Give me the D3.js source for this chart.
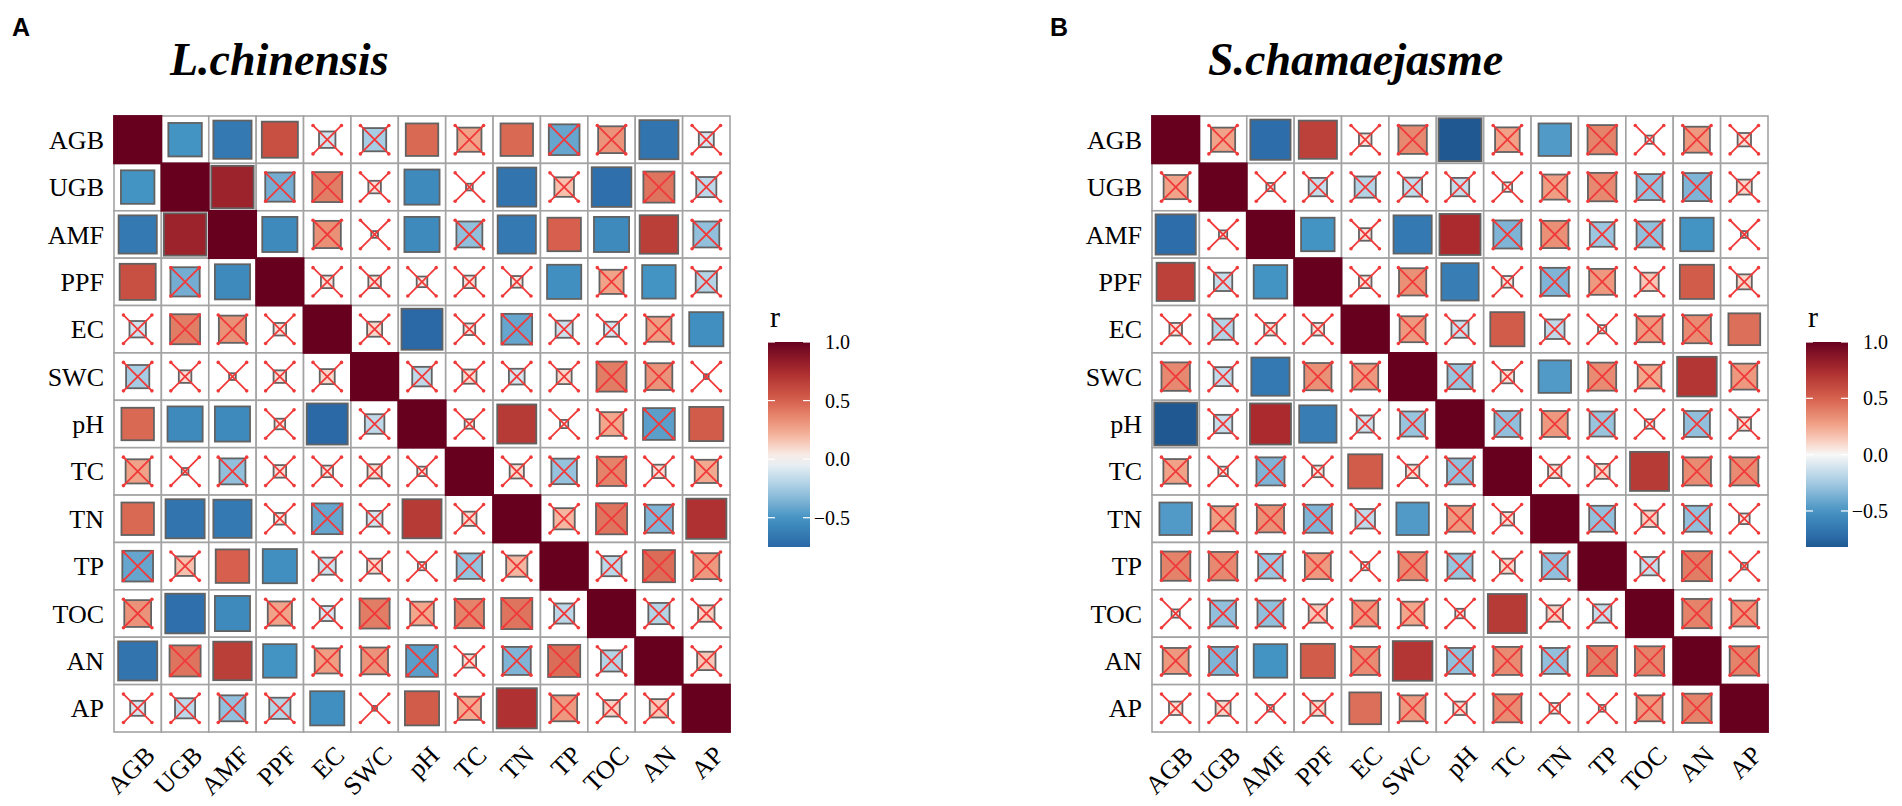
<!DOCTYPE html>
<html>
<head>
<meta charset="utf-8">
<style>
  * { margin:0; padding:0 }
  body, html { background:#fff; overflow:hidden; }
  text { font-family: "Liberation Serif", "Times New Roman", serif; }
</style>
<script src="https://cdn.jsdelivr.net/npm/d3@7"></script>
</head>
<body>
<script>
// variables (same order on both axes)
var vars = ["AGB","UGB","AMF","PPF","EC","SWC","pH","TC","TN","TP","TOC","AN","AP"];

// lower triangle of r, row by row (row i holds columns 0..i-1)
var rA = [
  [],
  [-0.50],
  [-0.65, 0.80],
  [0.58, -0.38, -0.55],
  [-0.12, 0.40, 0.33, 0.07],
  [-0.24, 0.07, 0.02, 0.07, 0.10],
  [0.47, -0.55, -0.55, 0.05, -0.75, -0.17],
  [0.26, 0.02, -0.30, 0.07, 0.06, 0.09, 0.04],
  [0.47, -0.68, -0.65, 0.06, -0.42, -0.11, 0.68, 0.09],
  [-0.42, 0.17, 0.50, -0.52, -0.13, 0.10, 0.03, -0.29, 0.20],
  [0.32, -0.70, -0.55, 0.26, -0.10, 0.40, 0.25, 0.38, 0.43, -0.18],
  [-0.68, 0.43, 0.66, -0.50, 0.28, 0.32, -0.45, 0.08, -0.35, 0.46, -0.20],
  [-0.10, -0.18, -0.30, -0.20, -0.52, 0.01, 0.52, 0.24, 0.72, 0.30, 0.12, 0.15]
];
// 1 = significant (no cross), 0 = not significant
var sA = [
  [],
  [1],
  [1,1],
  [1,0,1],
  [0,0,0,0],
  [0,0,0,0,0],
  [1,1,1,0,1,0],
  [0,0,0,0,0,0,0],
  [1,1,1,0,0,0,1,0],
  [0,0,1,1,0,0,0,0,0],
  [0,1,1,0,0,0,0,0,0,0],
  [1,0,1,1,0,0,0,0,0,0,0],
  [0,0,0,0,1,0,1,0,1,0,0,0]
];

var rB = [
  [],
  [0.26],
  [-0.72, 0.03],
  [0.65, -0.15, -0.50],
  [0.07, -0.20, 0.07, 0.07],
  [0.36, -0.16, -0.65, 0.33, 0.30],
  [-0.82, -0.15, 0.75, -0.62, -0.13, -0.28],
  [0.27, 0.04, -0.35, 0.06, 0.52, 0.08, -0.30],
  [-0.47, 0.28, 0.33, -0.35, -0.17, -0.47, 0.30, 0.08],
  [0.38, 0.36, -0.27, 0.30, 0.03, 0.35, -0.28, 0.10, -0.30],
  [0.03, -0.30, -0.30, 0.15, 0.30, 0.25, 0.04, 0.68, 0.12, -0.15],
  [0.30, -0.35, -0.50, 0.52, 0.35, 0.70, -0.30, 0.35, -0.30, 0.40, 0.38],
  [0.08, 0.10, 0.02, 0.10, 0.45, 0.30, 0.08, 0.35, 0.05, 0.02, 0.30, 0.38]
];
var sB = [
  [],
  [0],
  [1,0],
  [1,0,1],
  [0,0,0,0],
  [0,0,1,0,0],
  [1,0,1,1,0,0],
  [0,0,0,0,1,0,0],
  [1,0,0,0,0,1,0,0],
  [0,0,0,0,0,0,0,0,0],
  [0,0,0,0,0,0,0,1,0,0],
  [0,0,1,1,0,1,0,0,0,0,0],
  [0,0,0,0,1,0,0,0,0,0,0,0]
];

var legendTicks = [-0.5, 0, 0.5, 1];
var colorStops = [-1, -0.75, -0.5, -0.25, 0, 0.25, 0.5, 0.75, 1];
var colorHex = ["#053061", "#2a68a6", "#4393c3", "#a3cbe2", "#f7f7f7", "#f2a68c", "#d6604d", "#aa2a2e", "#67001f"];

var W = 1902, H = 806;
var svg = d3.select("body").append("svg").attr("width", W).attr("height", H);

var color = d3.scaleLinear().domain(colorStops).range(colorHex).interpolate(d3.interpolateLab);

function cells(r, s) {
  var out = [];
  vars.forEach(function(rv, i) {
    vars.forEach(function(cv, j) {
      var v, sig;
      if (i == j) { v = 1; sig = 1; }
      else if (j < i) { v = r[i][j]; sig = s[i][j]; }
      else { v = r[j][i]; sig = s[j][i]; }
      out.push({ row: rv, col: cv, v: v, sig: sig, diag: i == j });
    });
  });
  return out;
}

function panel(ox, letter, title, r, s, gid) {
  var x0 = ox + 114, y0 = 116, size = 616;
  var g = svg.append("g");
  var x = d3.scaleBand().domain(vars).range([x0, x0 + size]);
  var y = d3.scaleBand().domain(vars).range([y0, y0 + size]);
  var bw = x.bandwidth();
  var data = cells(r, s);

  g.append("text").attr("x", ox + 12).attr("y", 36)
    .style("font-family", "Liberation Sans, Arial, sans-serif")
    .style("font-weight", "bold").style("font-size", "25px").text(letter);
  g.append("text").attr("x", ox + 170).attr("y", 75)
    .style("font-weight", "bold").style("font-style", "italic")
    .style("font-size", "46px").text(title);

  // cell grid
  g.selectAll("rect.cell").data(data).enter().append("rect")
    .attr("x", function(d) { return x(d.col); })
    .attr("y", function(d) { return y(d.row); })
    .attr("width", bw).attr("height", bw)
    .attr("fill", "#fff").attr("stroke", "#a3a3a3").attr("stroke-width", 1.6);

  // squares, side ~ sqrt(|r|)
  g.selectAll("rect.sq").data(data).enter().append("rect")
    .attr("x", function(d) { return x(d.col) + bw / 2 - bw * Math.sqrt(Math.abs(d.v)) / 2; })
    .attr("y", function(d) { return y(d.row) + bw / 2 - bw * Math.sqrt(Math.abs(d.v)) / 2; })
    .attr("width", function(d) { return bw * Math.sqrt(Math.abs(d.v)); })
    .attr("height", function(d) { return bw * Math.sqrt(Math.abs(d.v)); })
    .attr("fill", function(d) { return color(d.v); })
    .attr("stroke", function(d) { return d.diag ? "#67001f" : "#626262"; })
    .attr("stroke-width", 1.8);

  // crosses on non-significant cells
  var ns = data.filter(function(d) { return !d.sig; });
  var k = bw * 0.3;
  var cr = g.selectAll("g.cross").data(ns).enter().append("g")
    .attr("transform", function(d) {
      return "translate(" + (x(d.col) + bw / 2) + "," + (y(d.row) + bw / 2) + ")";
    });
  cr.append("path")
    .attr("d", "M" + (-k) + "," + (-k) + "L" + k + "," + k + "M" + (-k) + "," + k + "L" + k + "," + (-k))
    .attr("stroke", "#f03a3a").attr("stroke-width", 1.8).attr("fill", "none");
  [[-k,-k],[k,k],[-k,k],[k,-k]].forEach(function(p) {
    cr.append("circle").attr("cx", p[0]).attr("cy", p[1]).attr("r", 1.8).attr("fill", "#f03a3a");
  });

  // axes
  var ay = g.append("g").attr("transform", "translate(" + (x0 - 10) + ",0)")
    .call(d3.axisLeft(y).tickSize(0).tickPadding(0));
  ay.select(".domain").remove();
  ay.selectAll("text").style("font-size", "26px").attr("fill", "#000")
    .attr("font-family", null).attr("dy", "0.35em");

  var ax = g.append("g").attr("transform", "translate(0," + (y0 + size + 12) + ")")
    .call(d3.axisBottom(x).tickSize(0).tickPadding(0));
  ax.select(".domain").remove();
  ax.selectAll("text").style("font-size", "26px").attr("fill", "#000")
    .attr("font-family", null)
    .attr("text-anchor", "end").attr("dy", "0.7em").attr("y", 0)
    .attr("transform", "translate(6,0) rotate(-45)");

  // colour bar
  var lo = d3.min(r, function(row) { return d3.min(row); });
  var ly = d3.scaleLinear().domain([lo, 1]).range([547, 342]);
  var lx = ox + 768, lw = 42;
  var grad = svg.append("defs").append("linearGradient").attr("id", gid)
    .attr("x1", 0).attr("y1", 1).attr("x2", 0).attr("y2", 0);
  d3.range(0, 1.0001, 0.05).forEach(function(t) {
    var v = lo + t * (1 - lo);
    grad.append("stop").attr("offset", t).attr("stop-color", color(v));
  });
  g.append("rect").attr("x", lx).attr("y", ly(1)).attr("width", lw)
    .attr("height", ly(lo) - ly(1)).attr("fill", "url(#" + gid + ")");
  g.append("text").attr("x", lx + 2).attr("y", 327).style("font-size", "30px").text("r");
  legendTicks.forEach(function(t) {
    g.append("line").attr("x1", lx).attr("x2", lx + 7).attr("y1", ly(t)).attr("y2", ly(t))
      .attr("stroke", "#fff").attr("stroke-width", 1.2);
    g.append("line").attr("x1", lx + lw - 7).attr("x2", lx + lw).attr("y1", ly(t)).attr("y2", ly(t))
      .attr("stroke", "#fff").attr("stroke-width", 1.2);
    g.append("text").attr("x", lx + 82).attr("y", ly(t)).attr("dy", "0.35em")
      .attr("text-anchor", "end").style("font-size", "20px").text(d3.format(".1f")(t));
  });
}

panel(0, "A", "L.chinensis", rA, sA, "gA");
panel(1038, "B", "S.chamaejasme", rB, sB, "gB");
</script>
</body>
</html>
